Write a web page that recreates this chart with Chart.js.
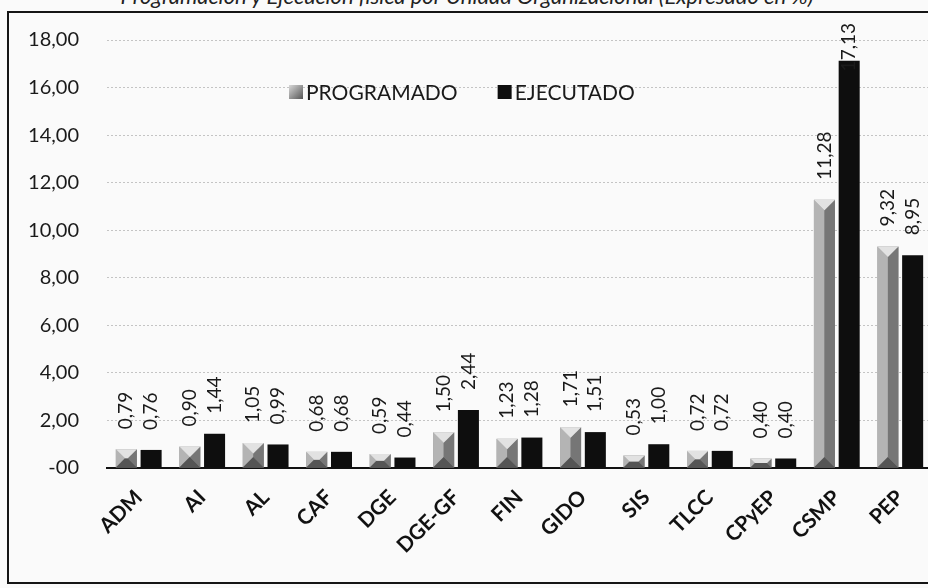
<!DOCTYPE html>
<html>
<head>
<meta charset="utf-8">
<script src="https://cdn.jsdelivr.net/npm/chart.js@4"></script>
<style>
    html, body { margin: 0; padding: 0; width: 928px; height: 588px; overflow: hidden; background: #fafafa; }
    .title { position: absolute; top: -15px; left: 0; width: 934px; text-align: center; font: italic 22px Lato, sans-serif; line-height: 22px; color: #222; white-space: nowrap; }
    .frame { position: absolute; left: 7px; top: 11px; width: 960px; height: 569px; border: 2px solid #151515; pointer-events: none; }
    .wrap { position: absolute; left: 0; top: 0; width: 940px; height: 588px; }
</style>
</head>
<body>
<div class="title">Programación y Ejecución física por Unidad Organizacional (Expresado en %)</div>
<div class="wrap"><canvas id="unidades-chart"></canvas></div>
<div class="frame"></div>
<script>
// Data
const units = ['ADM', 'AI', 'AL', 'CAF', 'DGE', 'DGE-GF', 'FIN', 'GIDO', 'SIS', 'TLCC', 'CPyEP', 'CSMP', 'PEP'];
const programado = [0.79, 0.90, 1.05, 0.68, 0.59, 1.50, 1.23, 1.71, 0.53, 0.72, 0.40, 11.28, 9.32];
const ejecutado = [0.76, 1.44, 0.99, 0.68, 0.44, 2.44, 1.28, 1.51, 1.00, 0.72, 0.40, 17.13, 8.95];
const yTicks = [0, 2, 4, 6, 8, 10, 12, 14, 16, 18];

function fmt(v) {
    return v.toFixed(2).replace('.', ',');
}

// Pyramid-like shading on the PROGRAMADO bars
const bevelBars = {
    id: 'bevelBars',
    afterDatasetDraw(chart, args) {
        if (args.index !== 0) return;
        const ctx = chart.ctx;
        args.meta.data.forEach(function(bar) {
            const l = bar.x - bar.width / 2, r = bar.x + bar.width / 2;
            const t = Math.min(bar.y, bar.base), b = Math.max(bar.y, bar.base);
            const d = Math.min(bar.width / 2, (b - t) / 2);
            const poly = function(pts, color) {
                ctx.beginPath();
                ctx.moveTo(pts[0][0], pts[0][1]);
                pts.slice(1).forEach(p => ctx.lineTo(p[0], p[1]));
                ctx.closePath();
                ctx.fillStyle = color;
                ctx.fill();
            };
            ctx.save();
            poly([[l, t], [l + d, t + d], [l + d, b - d], [l, b]], '#b4b4b4');
            poly([[r, t], [r - d, t + d], [r - d, b - d], [r, b]], '#767676');
            poly([[l, b], [l + d, b - d], [r - d, b - d], [r, b]], '#555555');
            poly([[l, t], [r, t], [r - d, t + d], [l + d, t + d]], '#e2e2e2');
            ctx.restore();
        });
    }
};

// Vertical value labels above every bar (pushed down when they would leave the frame)
const valueLabels = {
    id: 'valueLabels',
    afterDatasetsDraw(chart) {
        const ctx = chart.ctx;
        ctx.save();
        ctx.font = '19px Lato, sans-serif';
        ctx.fillStyle = '#1a1a1a';
        ctx.textAlign = 'left';
        ctx.textBaseline = 'middle';
        chart.data.datasets.forEach(function(ds, i) {
            chart.getDatasetMeta(i).data.forEach(function(bar, j) {
                const txt = fmt(ds.data[j]);
                const w = ctx.measureText(txt).width;
                let start = bar.y - 20;
                if (start - w < 19) start = 23 + w;
                ctx.save();
                ctx.translate(bar.x, start);
                ctx.rotate(-Math.PI / 2);
                ctx.fillText(txt, 0, 0);
                ctx.restore();
            });
        });
        ctx.restore();
    }
};

// Legend drawn inside the plot area
const innerLegend = {
    id: 'innerLegend',
    afterDraw(chart) {
        const ctx = chart.ctx;
        const area = chart.chartArea;
        const y = area.top + 52;
        let x = area.left + 182;
        ctx.save();
        ctx.font = '21px Lato, sans-serif';
        ctx.textBaseline = 'middle';
        ctx.textAlign = 'left';
        chart.data.datasets.forEach(function(ds, i) {
            if (i === 0) {
                const g = ctx.createLinearGradient(x, y - 7, x + 14, y + 7);
                g.addColorStop(0, '#d8d8d8');
                g.addColorStop(1, '#555');
                ctx.fillStyle = g;
            } else {
                ctx.fillStyle = ds.backgroundColor;
            }
            ctx.fillRect(x, y - 7, 14, 14);
            ctx.fillStyle = '#1a1a1a';
            ctx.fillText(ds.label, x + 17, y + 1);
            x += 17 + ctx.measureText(ds.label).width + 40;
        });
        ctx.restore();
    }
};

document.addEventListener('DOMContentLoaded', function() {
    const data = {
        labels: units,
        datasets: [{
            label: 'PROGRAMADO',
            backgroundColor: '#9a9a9a',
            data: programado
        }, {
            label: 'EJECUTADO',
            backgroundColor: '#0e0e0e',
            data: ejecutado
        }]
    };

    const options = {
        responsive: true,
        maintainAspectRatio: false,
        animation: false,
        datasets: {
            bar: { categoryPercentage: 0.78, barPercentage: 0.85 }
        },
        layout: { padding: { top: 38, left: 7, right: 8, bottom: 0 } },
        plugins: {
            legend: { display: false },
            tooltip: { enabled: false }
        },
        scales: {
            x: {
                afterFit: s => { s.height = 120; },
                grid: { display: false, drawTicks: false },
                border: { display: true, color: '#111', width: 2 },
                ticks: {
                    minRotation: 45,
                    maxRotation: 45,
                    padding: 17,
                    color: '#111',
                    font: { family: 'Lato, sans-serif', size: 21, weight: 'bold' }
                }
            },
            y: {
                min: 0,
                max: 18,
                afterFit: s => { s.width = 100; },
                afterBuildTicks: s => { s.ticks = yTicks.map(v => ({ value: v })); },
                grid: { color: '#c4c4c4', drawTicks: false },
                border: { display: false, dash: [2, 2] },
                ticks: {
                    padding: 28,
                    color: '#1a1a1a',
                    font: { family: 'Lato, sans-serif', size: 20 },
                    callback: v => v === 0 ? '-00' : fmt(v)
                }
            }
        }
    };

    const ctx = document.getElementById('unidades-chart').getContext('2d');
    new Chart(ctx, {
        type: 'bar',
        data: data,
        options: options,
        plugins: [bevelBars, valueLabels, innerLegend]
    });
});
</script>
</body>
</html>
